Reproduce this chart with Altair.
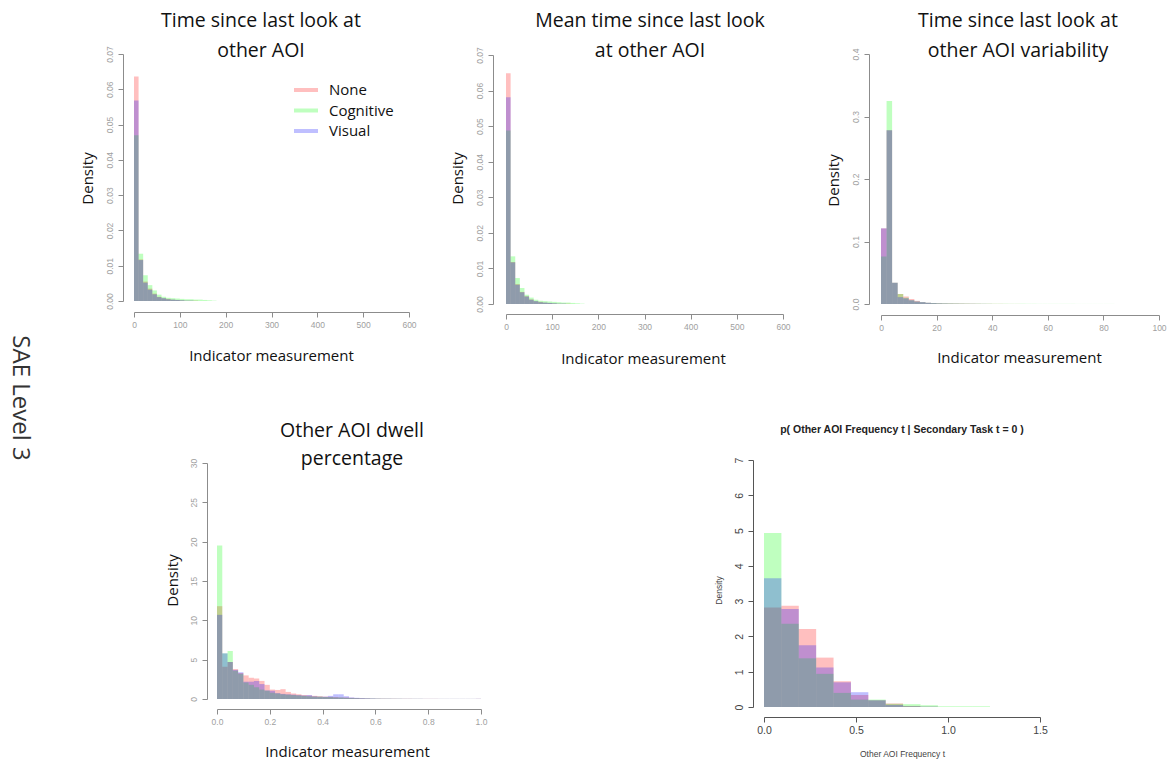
import altair as alt
import pandas as pd

W, H = 1171, 760

GROUPS = ["None", "Cognitive", "Visual"]
COLORS = ["#ff0000", "#00ff00", "#0000ff"]

# --- Time since last look at other AOI (bin width 10) ---
p1_bin = 10
p1_none = [0.0636, 0.0118, 0.0055, 0.0035, 0.0021, 0.0012, 0.0008, 0.0006, 0.0004, 0.0003, 0.0002, 0.0001, 0.0001, 0.0001]
p1_cog = [0.0470, 0.0134, 0.0073, 0.0045, 0.0030, 0.0018, 0.0012, 0.0009, 0.0008, 0.0007, 0.0006, 0.0005, 0.0005, 0.0004, 0.0004, 0.0003, 0.0002, 0.0001]
p1_vis = [0.0568, 0.0116, 0.0052, 0.0032, 0.0019, 0.0011, 0.0008, 0.0005, 0.0004, 0.0003, 0.0002, 0.0001, 0.0001]

# --- Mean time since last look at other AOI (bin width 10) ---
p2_bin = 10
p2_none = [0.0649, 0.0118, 0.0056, 0.0034, 0.0022, 0.0013, 0.0008, 0.0006, 0.0004, 0.0003, 0.0002, 0.0001, 0.0001, 0.0001]
p2_cog = [0.0488, 0.0134, 0.0073, 0.0045, 0.0026, 0.0018, 0.0012, 0.0009, 0.0008, 0.0007, 0.0006, 0.0005, 0.0004, 0.0004, 0.0003, 0.0002, 0.0001]
p2_vis = [0.0581, 0.0117, 0.0054, 0.0033, 0.0021, 0.0012, 0.0008, 0.0005, 0.0004, 0.0003, 0.0002, 0.0001, 0.0001]

# --- Time since last look at other AOI variability (bin width 2) ---
p3_bin = 2
p3_none = [0.121, 0.278, 0.034, 0.016, 0.012, 0.008, 0.005, 0.003, 0.002, 0.0015, 0.0012, 0.001, 0.0009, 0.0008,
           0.0007, 0.0006, 0.0005, 0.0004, 0.0003, 0.0003, 0.0002, 0.0002, 0.0001, 0.0001, 0.0001]
p3_cog = [0.076, 0.325, 0.034, 0.016, 0.010, 0.006, 0.004, 0.003, 0.002, 0.0016, 0.0013, 0.0011, 0.001, 0.0009,
          0.0008, 0.0007, 0.0006, 0.0006, 0.0005, 0.0005, 0.0004, 0.0004, 0.0004, 0.0003, 0.0003, 0.0003, 0.0003,
          0.0003, 0.0002, 0.0002, 0.0002, 0.0002, 0.0002, 0.0002, 0.0002, 0.0001, 0.0001, 0.0001, 0.0001, 0.0001,
          0.0001, 0.0001]
p3_vis = [0.121, 0.278, 0.034, 0.011, 0.009, 0.006, 0.004, 0.003, 0.002, 0.0014, 0.001, 0.0008, 0.0006, 0.0005,
          0.0004, 0.0003, 0.0003, 0.0002, 0.0002, 0.0001]

# --- Other AOI dwell percentage (bin width 0.02) ---
p4_bin = 0.02
p4_none = [11.8, 4.1, 4.7, 3.8, 3.3, 3.0, 2.7, 2.6, 2.3, 1.8, 1.2, 1.15, 1.25, 0.9, 0.7, 0.6, 0.5, 0.45, 0.4, 0.35,
           0.3, 0.28, 0.25, 0.2, 0.2, 0.15, 0.12, 0.1, 0.08, 0.06, 0.05, 0.05, 0.04, 0.04, 0.03, 0.03, 0.03, 0.02,
           0.02, 0.02, 0.02, 0.02, 0.01, 0.01, 0.01, 0.01, 0.01, 0.01, 0.01, 0.02]
p4_cog = [19.5, 5.8, 6.1, 3.6, 3.2, 2.1, 1.8, 1.5, 1.2, 1.05, 0.8, 0.7, 0.6, 0.55, 0.5, 0.45, 0.4, 0.35, 0.3, 0.3,
          0.25, 0.25, 0.2, 0.2, 0.15, 0.12, 0.1, 0.08, 0.07, 0.06, 0.05, 0.04, 0.04, 0.03, 0.03, 0.02, 0.02, 0.02,
          0.02, 0.01, 0.01, 0.01, 0.01, 0.01, 0.01, 0.01, 0.01, 0.01, 0.01, 0.01]
p4_vis = [10.7, 5.8, 4.7, 3.7, 3.4, 2.2, 2.2, 2.3, 1.9, 1.1, 1.05, 0.75, 0.65, 0.6, 0.55, 0.5, 0.45, 0.5, 0.35, 0.3,
          0.3, 0.4, 0.6, 0.6, 0.35, 0.2, 0.15, 0.12, 0.1, 0.08, 0.06, 0.05, 0.05, 0.04, 0.04, 0.03, 0.03, 0.03,
          0.03, 0.02, 0.02, 0.02, 0.02, 0.02, 0.02, 0.02, 0.02, 0.02, 0.02, 0.03]

# --- p(Other AOI Frequency t | Secondary Task t = 0) ---
p5_edges = [0, 0.0945, 0.189, 0.2835, 0.378, 0.4725, 0.567, 0.6615, 0.756, 0.8505, 0.945, 1.0395, 1.134, 1.2285]
p5_none = [2.82, 2.87, 2.21, 1.40, 0.73, 0.34, 0.19, 0.10, 0.03, 0.01, 0, 0, 0]
p5_cog = [4.93, 2.36, 1.38, 0.94, 0.40, 0.21, 0.21, 0.09, 0.08, 0.05, 0.02, 0.02, 0.02]
p5_vis = [3.65, 2.78, 1.75, 1.12, 0.70, 0.42, 0.19, 0.06, 0.02, 0.01, 0, 0, 0]


def frame_from_width(width, none, cog, vis):
    rows = []
    for g, vals in zip(GROUPS, [none, cog, vis]):
        for i, d in enumerate(vals):
            rows.append({"group": g, "x0": i * width, "x1": (i + 1) * width, "density": d})
    return pd.DataFrame(rows)


def frame_from_edges(edges, none, cog, vis):
    rows = []
    for g, vals in zip(GROUPS, [none, cog, vis]):
        for i, d in enumerate(vals):
            rows.append({"group": g, "x0": edges[i], "x1": edges[i + 1], "density": d})
    return pd.DataFrame(rows)


color_scale = alt.Scale(domain=GROUPS, range=COLORS)

R_LIGHT = dict(domainColor="#8c8c8c", tickColor="#8c8c8c", labelColor="#a0a0a0",
               labelFont="Liberation Sans", labelFontSize=8.5,
               titleFont="Open Sans", titleFontSize=15, titleColor="#111111")
R_DARK = dict(domainColor="#555555", tickColor="#555555", labelColor="#444444",
              labelFont="Liberation Sans", labelFontSize=10.5,
              titleFont="Liberation Sans", titleFontSize=8.5, titleColor="#444444")


def hist_panel(df, xdom, xrange, ydom, yrange, xticks, yticks, xfmt, yfmt,
               xaxis_y, yaxis_x, xtitle, xtitle_xy, ytitle, ytitle_xy, style):
    common = dict(grid=False, labelFlush=False, labelOverlap=False, tickSize=5,
                  titleFontWeight="normal", titleAlign="center", titleBaseline="middle",
                  domainWidth=1, tickWidth=1, **style)
    xaxis = alt.Axis(orient="bottom", offset=xaxis_y - H, values=xticks, format=xfmt,
                     labelPadding=3, labelAlign="center", labelBaseline="top",
                     title=xtitle, titleX=xtitle_xy[0], titleY=xtitle_xy[1] - xaxis_y,
                     **common)
    yaxis = alt.Axis(orient="left", offset=-yaxis_x, values=yticks, format=yfmt,
                     labelAngle=270, labelAlign="center", labelBaseline="bottom", labelPadding=4,
                     title=ytitle, titleAngle=270, titleX=ytitle_xy[0] - yaxis_x, titleY=ytitle_xy[1],
                     **common)
    return alt.Chart(df).mark_bar(opacity=0.25, strokeWidth=0).encode(
        x=alt.X("x0:Q", scale=alt.Scale(domain=xdom, range=xrange, nice=False, zero=False), axis=xaxis),
        x2="x1:Q",
        y=alt.Y("density:Q", stack=None, scale=alt.Scale(domain=ydom, range=yrange, nice=False), axis=yaxis),
        y2=alt.datum(0),
        color=alt.Color("group:N", scale=color_scale, legend=None),
    )


one_row = pd.DataFrame({"k": [0]})


def title_text(lines, x, y, size=19.5, font="Open Sans", weight="normal", line_height=30, angle=0, color="#111111"):
    # y is the centre of the first line
    return alt.Chart(one_row).mark_text(
        font=font, fontSize=size, fontWeight=weight, lineHeight=line_height, angle=angle,
        align="center", baseline="middle", color=color,
    ).encode(x=alt.value(x), y=alt.value(y), text=alt.value(lines))


m_ticks = [0, 100, 200, 300, 400, 500, 600]
p1 = hist_panel(frame_from_width(p1_bin, p1_none, p1_cog, p1_vis), [0, 600], [134, 409], [0, 0.07], [301, 54],
                m_ticks, [0, 0.01, 0.02, 0.03, 0.04, 0.05, 0.06, 0.07], "d", ".2f",
                312, 123, "Indicator measurement", (271, 355), "Density", (87, 178), R_LIGHT)
p2 = hist_panel(frame_from_width(p2_bin, p2_none, p2_cog, p2_vis), [0, 600], [506, 783], [0, 0.07], [304, 55],
                m_ticks, [0, 0.01, 0.02, 0.03, 0.04, 0.05, 0.06, 0.07], "d", ".2f",
                314, 493, "Indicator measurement", (643, 358), "Density", (457, 178), R_LIGHT)
p3 = hist_panel(frame_from_width(p3_bin, p3_none, p3_cog, p3_vis), [0, 100], [881, 1159], [0, 0.4], [304, 54],
                [0, 20, 40, 60, 80, 100], [0, 0.1, 0.2, 0.3, 0.4], "d", ".1f",
                315, 869, "Indicator measurement", (1019, 357), "Density", (833, 180), R_LIGHT)
p4 = hist_panel(frame_from_width(p4_bin, p4_none, p4_cog, p4_vis), [0, 1], [217, 481], [0, 30], [699, 463],
                [0, 0.2, 0.4, 0.6, 0.8, 1.0], [0, 5, 10, 15, 20, 25, 30], ".1f", "d",
                709, 207, "Indicator measurement", (347, 751), "Density", (172, 580), R_LIGHT)
p5 = hist_panel(frame_from_edges(p5_edges, p5_none, p5_cog, p5_vis), [0, 1.5], [764, 1040], [0, 7], [707, 460],
                [0, 0.5, 1.0, 1.5], [0, 1, 2, 3, 4, 5, 6, 7], ".1f", "d",
                717, 753, "Other AOI Frequency t", (902, 753), "Density", (718, 590), R_DARK)

# legend drawn inside the first panel
legend_df = pd.DataFrame({"group": GROUPS})
legend_y = alt.Y("group:N", scale=alt.Scale(type="point", domain=GROUPS, range=[90, 131], padding=0), axis=None)
legend_lines = alt.Chart(legend_df).mark_rule(strokeWidth=4, opacity=0.25).encode(
    y=legend_y, x=alt.value(294), x2=alt.value(318),
    color=alt.Color("group:N", scale=color_scale, legend=None),
)
legend_labels = alt.Chart(legend_df).mark_text(
    align="left", baseline="middle", font="Open Sans", fontSize=15, color="#111111"
).encode(y=legend_y, x=alt.value(329), text="group:N")

titles = [
    title_text(["Time since last look at", "other AOI"], 261, 21),
    title_text(["Mean time since last look", "at other AOI"], 650, 21),
    title_text(["Time since last look at", "other AOI variability"], 1018, 21),
    title_text(["Other AOI dwell", "percentage"], 352, 431, line_height=28),
    title_text("p( Other AOI Frequency t | Secondary Task t = 0 )", 902, 430, size=10.5,
               font="Liberation Sans", weight="bold", color="#222222"),
    title_text("SAE Level 3", 20, 398, size=24, angle=90, color="#333333"),
]

chart = alt.layer(p1, p2, p3, p4, p5, legend_lines, legend_labels, *titles).resolve_scale(
    x="independent", y="independent"
).properties(
    width=W, height=H, autosize=alt.AutoSizeParams(type="none"), padding=0
).configure(background="white", view=alt.ViewConfig(stroke=None))

chart.save("out.html", embed_options={"renderer": "svg", "actions": False})
